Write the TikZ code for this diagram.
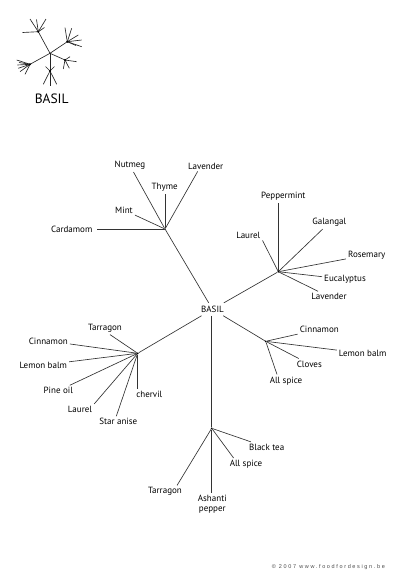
\documentclass[tikz,border=0pt]{standalone}
\usepackage{fontspec}
\setmainfont{PT Sans}
\newfontfamily\copyfont[LetterSpace=30]{Liberation Sans}
\begin{document}
\begin{tikzpicture}[x=1pt,y=-1pt,
  br/.style={draw=black!80, line width=0.65pt},
  ic/.style={draw=black!85, line width=0.65pt},
  lbl/.style={font=\fontsize{9}{10}\selectfont, inner sep=2pt, text=black},
  hub/.style={circle, fill=black, inner sep=0pt, minimum size=2pt},
  ]
\useasboundingbox[fill=white] (0,0) rectangle (400,579);

% ---------- icon ----------
\coordinate (iC) at (50,53.3);
\coordinate (iTL) at (38.3,31.7);
\coordinate (iR) at (67.3,41.7);
\coordinate (iBL) at (30,64.3);
\coordinate (iB) at (50,71);
\coordinate (iRL) at (65,60);
\foreach \h in {iTL,iR,iBL,iB,iRL} \draw[ic] (iC) -- (\h);
\foreach \p in {(30,19),(36.5,19.5),(46,19),(22.5,32.5),(44.5,27.5)} \draw[ic] (iTL) -- \p;
\foreach \p in {(65,27.7),(71.7,28.3),(78.3,35),(81.7,40),(81.7,46.7),(76,45.5)} \draw[ic] (iR) -- \p;
\foreach \p in {(16.7,60),(17.3,65),(18.3,68.3),(20,71.7),(25,74.3),(19,62.5)} \draw[ic] (iBL) -- \p;
\foreach \p in {(43.3,84.3),(50,85.7),(56.7,84.3),(45.5,66.5),(54.5,66.5)} \draw[ic] (iB) -- \p;
\foreach \p in {(70,56.7),(76.7,61.7),(63.3,69),(69.3,68.3)} \draw[ic] (iRL) -- \p;
\foreach \h in {iTL,iR,iBL,iB,iRL} \fill (\h) circle (1.1pt);
\node[font=\fontsize{13.5}{15}\selectfont, text=black] (iconlbl) at (51.7,98.3) {BASIL};

% ---------- main tree ----------
\node[lbl, inner sep=3pt] (root) at (212.5,309.3) {BASIL};
\node[hub] (h1) at (165,229) {};
\node[hub] (h2) at (278.3,271.7) {};
\node[hub] (h3) at (137.7,353.3) {};
\node[hub] (h4) at (265.7,341.3) {};
\node[hub] (h5) at (211.7,428.3) {};

\draw[br] (root) -- (h1);
\draw[br] (root) -- (h2);
\draw[br] (root) -- (h3);
\draw[br] (root) -- (h4);
\draw[br] (h5 |- root.south) -- (h5);

% hub 1
\node[lbl] (nutmeg) at (130,165.7) {Nutmeg};
\node[lbl] (lav1) at (205.7,166) {Lavender};
\node[lbl] (thyme) at (164.7,187.7) {Thyme};
\node[lbl] (mint) at (124,210) {Mint};
\node[lbl, inner sep=4pt] (cardamom) at (71.7,229.3) {Cardamom};
\draw[br] (h1) -- (nutmeg);
\draw[br] (h1) -- ([xshift=-8pt]lav1.south);
\draw[br] (h1) -- (h1 |- thyme.south);
\draw[br] (h1) -- (mint);
\draw[br] (h1) -- (h1 -| cardamom.east);

% hub 2
\node[lbl] (pepper) at (283.3,196.7) {Peppermint};
\node[lbl] (galangal) at (329.3,222.7) {Galangal};
\node[lbl] (rosemary) at (366.7,255) {Rosemary};
\node[lbl] (eucal) at (345,279.3) {Eucalyptus};
\node[lbl] (lav2) at (329,296.7) {Lavender};
\node[lbl] (laurel2) at (248.3,235) {Laurel};
\draw[br] (h2) -- (h2 |- pepper.south);
\draw[br] (h2) -- (galangal);
\draw[br] (h2) -- (rosemary);
\draw[br] (h2) -- (eucal);
\draw[br] (h2) -- (lav2);
\draw[br] (h2) -- (laurel2.south east);

% hub 3
\node[lbl] (tarr3) at (105,328.3) {Tarragon};
\node[lbl] (cinn3) at (48.3,341) {Cinnamon};
\node[lbl] (lemon3) at (43.3,365) {Lemon balm};
\node[lbl] (pine) at (58.3,390.7) {Pine oil};
\node[lbl] (laurel3) at (80,409.3) {Laurel};
\node[lbl] (star) at (118.3,421.7) {Star anise};
\node[lbl] (chervil) at (149.3,394) {chervil};
\draw[br] (h3) -- ([xshift=5pt]tarr3.south);
\draw[br] (h3) -- (cinn3);
\draw[br] (h3) -- (lemon3);
\draw[br] (h3) -- (pine);
\draw[br] (h3) -- (laurel3.north east);
\draw[br] (h3) -- ([xshift=-2pt]star.north);
\draw[br] (h3) -- (h3 |- chervil.north);

% hub 4
\node[lbl] (cinn4) at (319.3,329.3) {Cinnamon};
\node[lbl] (lemon4) at (362.7,353.3) {Lemon balm};
\node[lbl] (cloves) at (309.3,364) {Cloves};
\node[lbl] (alls4) at (286,380.7) {All spice};
\draw[br] (h4) -- (cinn4);
\draw[br] (h4) -- (lemon4);
\draw[br] (h4) -- (cloves);
\draw[br] (h4) -- ([xshift=-9pt]alls4.north);

% hub 5
\node[lbl] (black) at (266.7,447.3) {Black tea};
\node[lbl] (alls5) at (246,464.3) {All spice};
\node[lbl] (tarr5) at (165,491.7) {Tarragon};
\node[lbl, align=center] (ashanti) at (212.3,504) {Ashanti\\pepper};
\draw[br] (h5) -- (black);
\draw[br] (h5) -- ([xshift=6pt]alls5.north west);
\draw[br] (h5) -- ([xshift=-7pt]tarr5.north east);
\draw[br] (h5) -- (h5 |- ashanti.north);

% copyright
\node[font=\copyfont\fontsize{5.5}{6}\selectfont, text=black!70] (copy) at (328.3,567.3) {© 2007 www.foodfordesign.be};
\end{tikzpicture}
\end{document}
